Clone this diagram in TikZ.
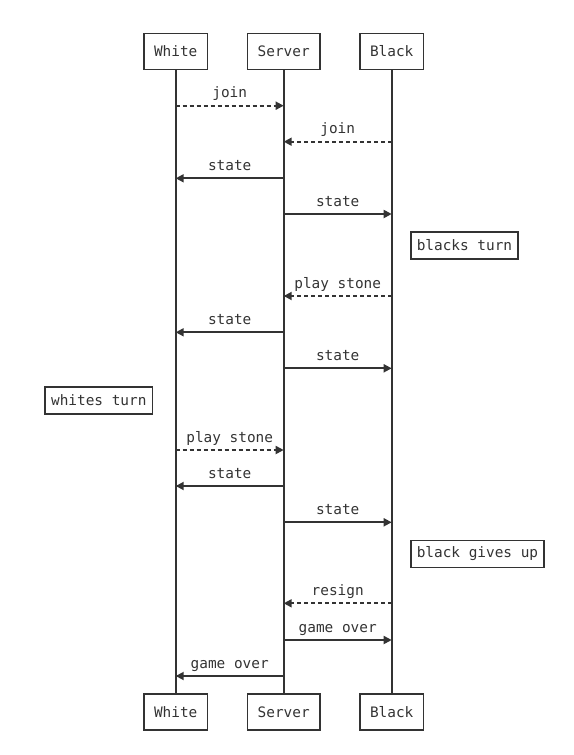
\documentclass[tikz,border=0pt]{standalone}
\usepackage{fontspec}
\setmonofont{DejaVu Sans Mono}
\usetikzlibrary{arrows.meta}
\definecolor{ink}{HTML}{333333}
\tikzset{
  actor/.style={draw=ink, line width=1.6pt, fill=white, text=ink, font=\ttfamily\fontsize{14.4}{16}\selectfont,
    minimum height=36pt, inner xsep=10pt, inner ysep=0pt},
  note/.style={draw=ink, line width=1.6pt, fill=white, text=ink, font=\ttfamily\fontsize{14.4}{16}\selectfont,
    minimum height=27pt, inner xsep=6pt, inner ysep=0pt},
  life/.style={draw=ink, line width=1.9pt},
  msg/.style={draw=ink, line width=1.8pt, -{Triangle[length=8pt,width=8pt]}},
  dmsg/.style={msg, dash pattern=on 4pt off 3pt},
  lbl/.style={text=ink, font=\ttfamily\fontsize{14.4}{16}\selectfont, inner sep=0pt, anchor=base, yshift=8pt},
}
\begin{document}
\begin{tikzpicture}[x=1pt,y=1pt]
\useasboundingbox (0,0) rectangle (573,-755);
% actors top
\node[actor] (wT) at (175.7,-51.3) {White};
\node[actor] (sT) at (283.7,-51.3) {Server};
\node[actor] (bT) at (391.7,-51.3) {Black};
% actors bottom
\node[actor] (wB) at (175.7,-712.2) {White};
\node[actor] (sB) at (283.7,-712.2) {Server};
\node[actor] (bB) at (391.7,-712.2) {Black};
% lifelines
\draw[life] (wT.south) -- (wB.north);
\draw[life] (sT.south) -- (sB.north);
\draw[life] (bT.south) -- (bB.north);
% messages
\draw[dmsg] (wT |- 0,-105.7) -- node[lbl]{join} (sT |- 0,-105.7);
\draw[dmsg] (bT |- 0,-141.7) -- node[lbl]{join} (sT |- 0,-141.7);
\draw[msg] (sT |- 0,-178.3) -- node[lbl]{state} (wT |- 0,-178.3);
\draw[msg] (sT |- 0,-214) -- node[lbl]{state} (bT |- 0,-214);
\node[note, anchor=west] (n1) at (410,-245.5) {blacks turn};
\draw[dmsg] (bT |- 0,-296) -- node[lbl]{play stone} (sT |- 0,-296);
\draw[msg] (sT |- 0,-332.3) -- node[lbl]{state} (wT |- 0,-332.3);
\draw[msg] (sT |- 0,-368.3) -- node[lbl]{state} (bT |- 0,-368.3);
\node[note, anchor=east] (n2) at (153.3,-400.2) {whites turn};
\draw[dmsg] (wT |- 0,-450) -- node[lbl]{play stone} (sT |- 0,-450);
\draw[msg] (sT |- 0,-486) -- node[lbl]{state} (wT |- 0,-486);
\draw[msg] (sT |- 0,-522.3) -- node[lbl]{state} (bT |- 0,-522.3);
\node[note, anchor=west] (n3) at (410,-553.8) {black gives up};
\draw[dmsg] (bT |- 0,-603.3) -- node[lbl]{resign} (sT |- 0,-603.3);
\draw[msg] (sT |- 0,-640) -- node[lbl]{game over} (bT |- 0,-640);
\draw[msg] (sT |- 0,-676) -- node[lbl]{game over} (wT |- 0,-676);
\end{tikzpicture}
\end{document}
